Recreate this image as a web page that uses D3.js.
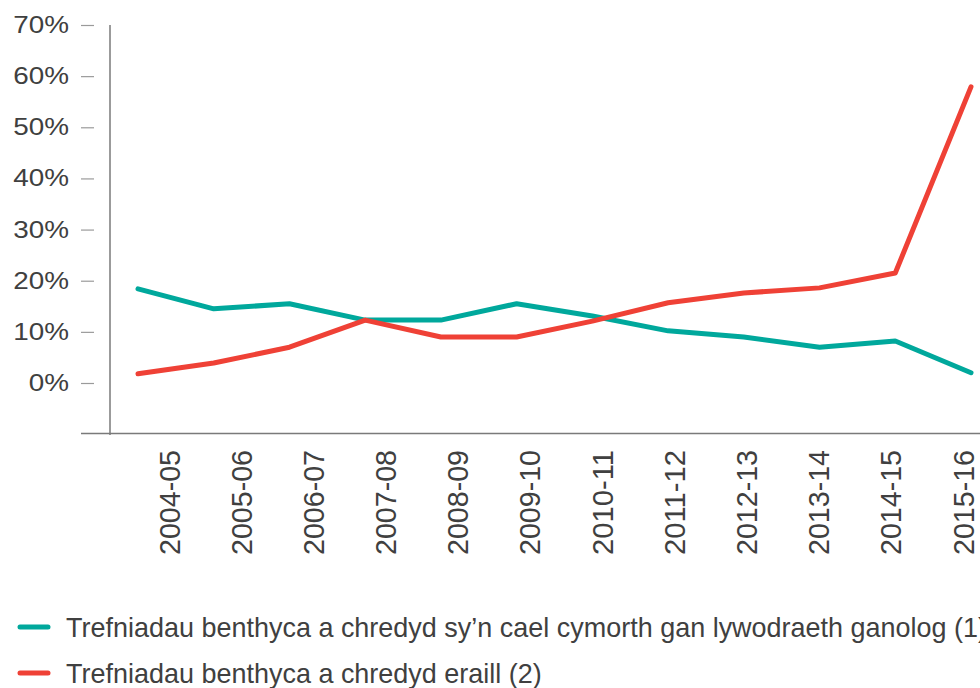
<!DOCTYPE html>
<html>
<head>
<meta charset="utf-8">
<script src="https://cdn.jsdelivr.net/npm/d3@7"></script>
<style>
  html, body { margin: 0; padding: 0; background: #fff; }
  svg { display: block; font-family: "Liberation Sans", Arial, sans-serif; }
  .tick text { fill: #404040; }
</style>
</head>
<body>
<svg id="chart" width="980" height="688"></svg>
<script>
// data
const years = ['2004-05','2005-06','2006-07','2007-08','2008-09','2009-10',
               '2010-11','2011-12','2012-13','2013-14','2014-15','2015-16'];
const centralGov = [18.4, 14.5, 15.5, 12.3, 12.3, 15.5, 13.1, 10.2, 9.0, 7.0, 8.2, 2.0];
const otherArr   = [1.8, 3.9, 7.0, 12.3, 9.0, 9.0, 12.1, 15.7, 17.6, 18.6, 21.5, 57.9];
const yTicks = [0, 10, 20, 30, 40, 50, 60, 70];
const legendLabels = [
  'Trefniadau benthyca a chredyd sy’n cael cymorth gan lywodraeth ganolog (1)',
  'Trefniadau benthyca a chredyd eraill (2)'
];
const colors = ['#00a89c', '#ef4136'];

const svg = d3.select('#chart');

// scales
const x = d3.scalePoint().domain(years).range([138, 971]);
const xLab = d3.scalePoint().domain(years).range([168, 962]);
const y = d3.scaleLinear().domain([0, 70]).range([383, 25]);

// stretch text horizontally by a factor
function stretch(sel, k) {
  sel.each(function() {
    const len = this.getComputedTextLength();
    d3.select(this).attr('textLength', len * k).attr('lengthAdjust', 'spacingAndGlyphs');
  });
}

// y axis ticks (detached from the axis line)
const yAxis = svg.append('g')
  .attr('transform', 'translate(94,0)')
  .call(d3.axisLeft(y).tickValues(yTicks).tickSize(13).tickPadding(12)
    .tickFormat(d => d + '%'));
yAxis.select('.domain').remove();
yAxis.selectAll('.tick line').attr('stroke', '#9a9a9a').attr('stroke-width', 1.2);
yAxis.selectAll('.tick text')
  .attr('font-size', 24)
  .attr('dy', '0.31em');
stretch(yAxis.selectAll('.tick text'), 1.16);

// axis lines
svg.append('line')
  .attr('x1', 110).attr('x2', 110).attr('y1', 25).attr('y2', 435)
  .attr('stroke', '#7a7a7a').attr('stroke-width', 1.5);
svg.append('line')
  .attr('x1', 81).attr('x2', 980).attr('y1', 433.5).attr('y2', 433.5)
  .attr('stroke', '#7a7a7a').attr('stroke-width', 1.5);

// x labels, rotated
const xAxis = svg.append('g')
  .attr('transform', 'translate(0,450)')
  .call(d3.axisBottom(xLab).tickSize(0).tickPadding(0));
xAxis.select('.domain').remove();
xAxis.selectAll('.tick text')
  .attr('font-size', 30)
  .attr('text-anchor', 'end')
  .attr('dy', null)
  .attr('y', 0)
  .attr('transform', 'translate(11,0) rotate(-90)');
xAxis.selectAll('.tick text').attr('textLength', 105).attr('lengthAdjust', 'spacingAndGlyphs');

// lines
const line = d3.line()
  .x((d, i) => x(years[i]))
  .y(d => y(d));

[centralGov, otherArr].forEach((s, k) => {
  svg.append('path')
    .datum(s)
    .attr('d', line)
    .attr('fill', 'none')
    .attr('stroke', colors[k])
    .attr('stroke-width', 5)
    .attr('stroke-linejoin', 'round')
    .attr('stroke-linecap', 'round');
});

// legend
const legY = [627, 673];
const leg = svg.append('g');
legendLabels.forEach((t, k) => {
  leg.append('line')
    .attr('x1', 20).attr('x2', 48)
    .attr('y1', legY[k]).attr('y2', legY[k])
    .attr('stroke', colors[k]).attr('stroke-width', 5)
    .attr('stroke-linecap', 'round');
  leg.append('text')
    .attr('x', 66).attr('y', legY[k] + 10)
    .attr('font-size', 28)
    .attr('fill', '#404040')
    .text(t);
});
// legend text is a little condensed
const first = leg.select('text').node();
const k = 921 / first.getComputedTextLength();
stretch(leg.selectAll('text'), k);
</script>
</body>
</html>
